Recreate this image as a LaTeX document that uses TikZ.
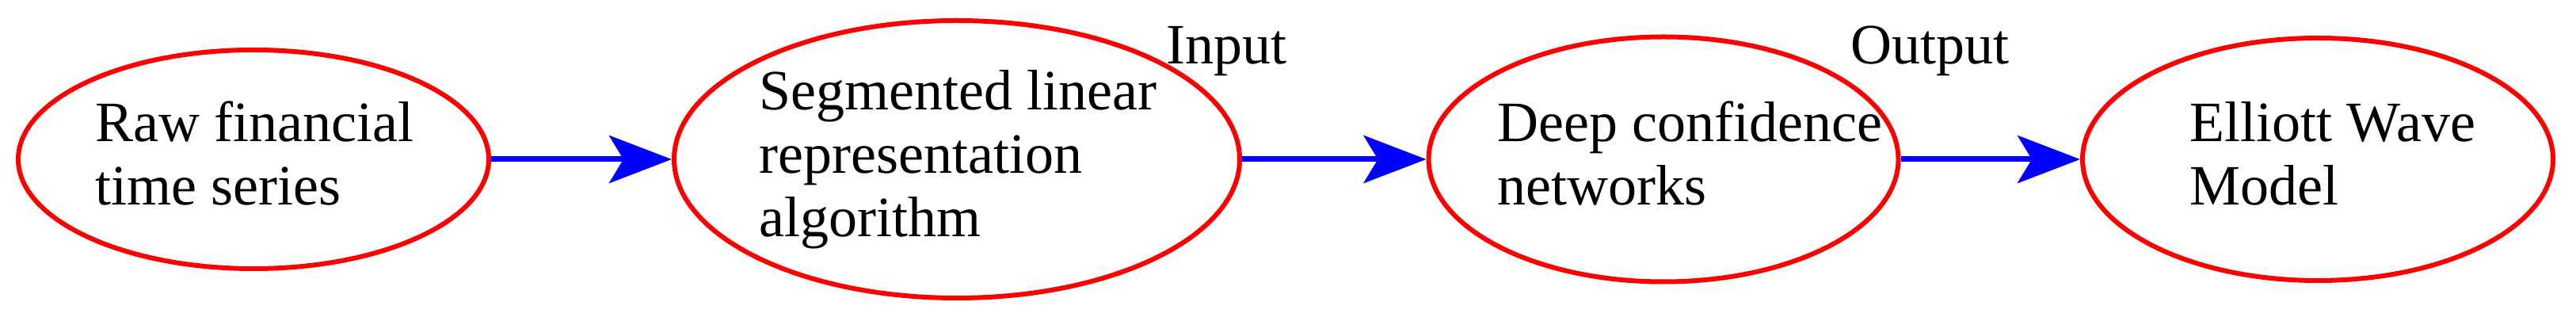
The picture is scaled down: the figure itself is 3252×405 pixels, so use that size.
\documentclass[tikz,border=0pt]{standalone}
\usepackage{fontspec}
\setmainfont{Liberation Serif}
\usetikzlibrary{shapes.geometric,arrows.meta}
\begin{document}
\begin{tikzpicture}[x=0.25pt,y=-0.25pt,
  stage/.style={ellipse, draw=red, line width=1.5pt, inner sep=0pt},
  words/.style={anchor=west, inner sep=0pt, align=left,
    font=\fontsize{18pt}{20pt}\selectfont},
  flow/.style={draw=blue, line width=1.75pt, -{Stealth[length=19.75pt,width=15pt,inset=4.5pt,fill=blue]}},
  tag/.style={anchor=base west, inner sep=0pt, font=\fontsize{18pt}{20pt}\selectfont}]
\useasboundingbox (0,0) rectangle (3252,405);
\node[stage, minimum width=148.5pt, minimum height=69pt] (e1) at (320,201) {};
\node[stage, minimum width=178.5pt, minimum height=87.5pt] (e2) at (1208,201) {};
\node[stage, minimum width=148.25pt, minimum height=77.25pt] (e3) at (2100,201) {};
\node[stage, minimum width=148.5pt, minimum height=76.5pt] (e4) at (2926,201) {};
\node[words] (t1) at (120,194) {Raw financial\\time series};
\node[words] (t2) at (958,201) {Segmented linear\\representation\\algorithm};
\node[words] (t3) at (1890,194) {Deep confidence\\networks};
\node[words] (t4) at (2764,194) {Elliott Wave\\Model};
\draw[flow] (e1) -- (e2);
\draw[flow] (e2) -- (e3);
\draw[flow] (e3) -- (e4);
\node[tag] (in) at (1472,81) {Input};
\node[tag] (out) at (2336,81) {Output};
\end{tikzpicture}
\end{document}
